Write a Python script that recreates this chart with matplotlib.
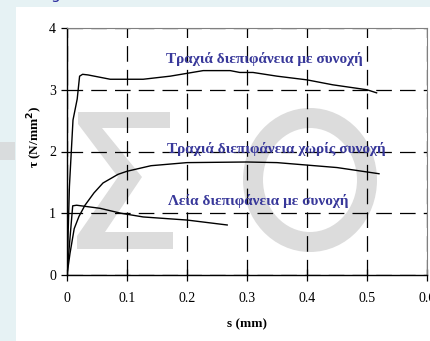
import numpy as np
import matplotlib.pyplot as plt
from matplotlib.patches import Polygon, Ellipse, Rectangle

# curves: s (mm), tau (N/mm2)
s_rough_coh = [0, 0.004, 0.010, 0.017, 0.021, 0.026, 0.035, 0.072, 0.127, 0.172, 0.227,
               0.272, 0.288, 0.31, 0.35, 0.40, 0.443, 0.50, 0.516]
t_rough_coh = [0, 1.43, 2.51, 2.85, 3.22, 3.25, 3.24, 3.17, 3.17, 3.22, 3.31,
               3.31, 3.28, 3.28, 3.22, 3.16, 3.08, 3.00, 2.95]

s_rough = [0, 0.005, 0.012, 0.02, 0.03, 0.045, 0.06, 0.085, 0.10, 0.14, 0.20,
           0.30, 0.35, 0.40, 0.45, 0.52]
t_rough = [0, 0.35, 0.75, 0.95, 1.13, 1.33, 1.49, 1.63, 1.68, 1.77, 1.82,
           1.83, 1.82, 1.78, 1.74, 1.64]

s_smooth = [0, 0.005, 0.0095, 0.016, 0.055, 0.09, 0.127, 0.20, 0.267]
t_smooth = [0, 0.6, 1.12, 1.13, 1.08, 1.0, 0.94, 0.89, 0.81]

labels = ['Τραχιά διεπιφάνεια με συνοχή',
          'Τραχιά διεπιφάνεια χωρίς συνοχή',
          'Λεία διεπιφάνεια με συνοχή']
label_pos = [(0.329, 3.50), (0.349, 2.04), (0.319, 1.20)]

xticks = [0, 0.1, 0.2, 0.3, 0.4, 0.5, 0.6]
yticks = [0, 1, 2, 3, 4]

W, H = 430, 341
def px(x, y):  # pixel -> figure fraction
    return (x / W, 1 - y / H)

fig = plt.figure(figsize=(4.3, 3.41), dpi=100)
fig.patch.set_facecolor('#e6f2f4')
# white page panel
fig.patches.append(Rectangle(px(16, 341), 414 / W, 334 / H, transform=fig.transFigure,
                             facecolor='white', edgecolor='none', zorder=-10))
fig.patches.append(Rectangle(px(0, 160), 15 / W, 18 / H, transform=fig.transFigure,
                             facecolor='#d9dcdd', edgecolor='none', zorder=-10))
fig.text(50 / W, 1 - 2 / H, 'g', color='#3030a0', fontsize=11, va='bottom')

ax = fig.add_axes([67 / W, 66 / H, 360 / W, 247 / H])
ax.set_facecolor('white')

# watermark
sigma = [(78, 112), (170, 112), (170, 128), (102, 128), (142, 177), (105, 232), (173, 232),
         (173, 249), (77, 249), (77, 236), (118, 177), (78, 124)]
ax.add_patch(Polygon([px(*p) for p in sigma], closed=True, transform=fig.transFigure,
                     facecolor='#dcdcdc', edgecolor='none', zorder=0.5, clip_on=False))
ax.add_patch(Ellipse(px(310, 180), 114 / W, 124 / H, transform=fig.transFigure,
                     fill=False, edgecolor='#dcdcdc', linewidth=14.4, zorder=0.5))

for s, t in [(s_rough_coh, t_rough_coh), (s_rough, t_rough), (s_smooth, t_smooth)]:
    ax.plot(s, t, color='black', linewidth=1.0, zorder=3)

for txt, (x, y) in zip(labels, label_pos):
    ax.text(x, y, txt, color='#38389a', fontsize=11, fontweight='bold',
            family='Liberation Serif', ha='center', va='center', zorder=4)

ax.set_xlim(0, 0.6)
ax.set_ylim(0, 4)
ax.set_xticks(xticks)
ax.set_xticklabels(['0'] + [str(v) for v in xticks[1:]])
ax.set_yticks(yticks)
ax.grid(True, color='black', linestyle=(0, (12.5, 6.5)), linewidth=0.9)
ax.tick_params(axis='x', direction='inout', length=8, width=0.9, pad=8)
ax.tick_params(axis='y', direction='out', length=4, width=0.9, pad=4)
for lab in ax.get_xticklabels() + ax.get_yticklabels():
    lab.set_family('Liberation Serif')
    lab.set_fontsize(10)
for sp in ['left', 'bottom']:
    ax.spines[sp].set_linewidth(1.0)
for sp in ['top', 'right']:
    ax.spines[sp].set_color('#808080')
    ax.spines[sp].set_linewidth(0.8)

ax.set_xlabel('s (mm)', family='Liberation Serif', fontweight='bold', fontsize=9.5, labelpad=10)
fig.text(35 / W, 1 - 137 / H, 'τ (N/mm$^\\mathbf{2}$)', family='Liberation Serif',
         fontweight='bold', fontsize=9.5, rotation=90, ha='center', va='center')

fig.savefig('out.png', dpi=100, facecolor=fig.get_facecolor())
